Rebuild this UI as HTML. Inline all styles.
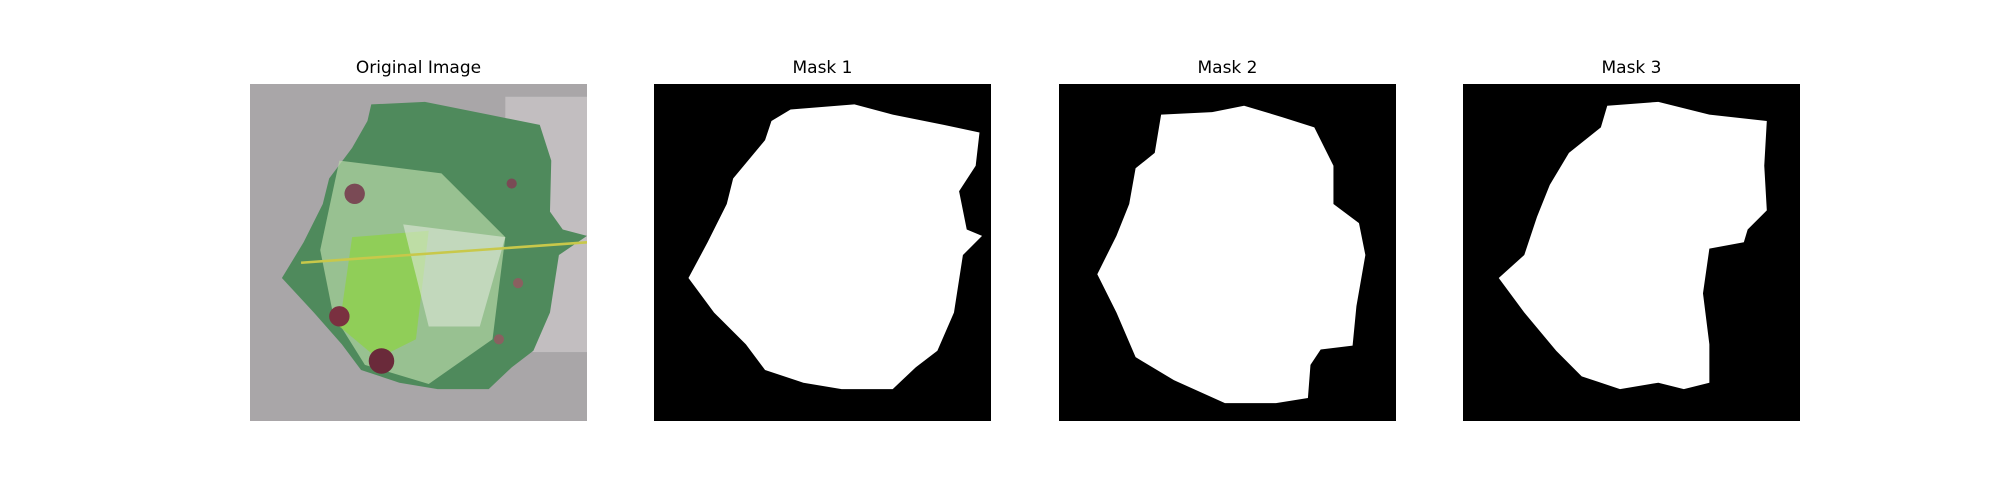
<!DOCTYPE html>
<html><head><meta charset="utf-8"><style>
body{margin:0;width:2000px;height:500px;background:#fff;position:relative;overflow:hidden;font-family:"DejaVu Sans","Liberation Sans",sans-serif}
.t{position:absolute;top:58px;width:337px;text-align:center;font-size:17px;color:#000}
svg.p{position:absolute;top:84px;width:337px;height:337px}
</style></head><body>
<div class="t" style="left:250px">Original Image</div>
<div class="t" style="left:654px">Mask 1</div>
<div class="t" style="left:1059px">Mask 2</div>
<div class="t" style="left:1463px">Mask 3</div>

<svg class="p" style="left:250px" viewBox="0 0 264 264" preserveAspectRatio="none">
<rect width="264" height="264" fill="#a9a6a8"/>
<rect x="200" y="10" width="64" height="200" fill="#c8c4c6" opacity="0.8"/>
<polygon points="95,16 137,14 187,24 227,32 236,60 235,100 245,114 264,119 242,134 235,179 222,209 205,222 187,239 147,239 117,234 87,224 72,204 50,179 25,152 42,124 57,94 62,74 80,50 92,29" fill="#4f8a5c"/>
<polygon points="70,60 150,70 200,120 190,200 140,235 90,220 65,180 55,130" fill="#b8d8a8" opacity="0.7"/>
<polygon points="80,120 140,115 130,200 100,215 70,190" fill="#8fd14a" opacity="0.8"/>
<polygon points="120,110 200,120 180,190 140,190" fill="#dde8d8" opacity="0.6"/>
<line x1="40" y1="140" x2="264" y2="124" stroke="#c8c84a" stroke-width="2"/>
<circle cx="82" cy="86" r="8" fill="#7a4a55"/>
<circle cx="70" cy="182" r="8" fill="#7a3040"/>
<circle cx="103" cy="217" r="10" fill="#6a2a3a"/>
<circle cx="205" cy="78" r="4" fill="#7a4a55"/>
<circle cx="210" cy="156" r="4" fill="#8a6060"/>
<circle cx="195" cy="200" r="4" fill="#8a6060"/>
</svg>

<svg class="p" style="left:654px" viewBox="0 0 264 264" preserveAspectRatio="none">
<rect width="264" height="264" fill="#000"/>
<polygon points="107,20 157,16 187,24 227,32 255,38 252,64 239,84 245,114 257,119 242,134 235,179 222,209 205,222 187,239 147,239 117,234 87,224 72,204 47,179 27,152 42,124 57,94 62,74 87,44 92,29" fill="#fff"/>
</svg>

<svg class="p" style="left:1059px" viewBox="0 0 264 264" preserveAspectRatio="none">
<rect width="264" height="264" fill="#000"/>
<polygon points="80,24 120,22 145,17 175,26 200,34 215,64 215,94 235,109 240,134 233,174 230,205 205,208 197,220 195,246 170,250 130,250 90,232 60,214 45,179 30,149 45,119 55,94 60,66 75,54" fill="#fff"/>
</svg>

<svg class="p" style="left:1463px" viewBox="0 0 264 264" preserveAspectRatio="none">
<rect width="264" height="264" fill="#000"/>
<polygon points="108,34 113,17 153,14 193,24 238,29 236,64 238,99 223,114 220,124 193,129 188,164 193,204 193,234 173,239 153,234 123,239 93,229 73,209 48,179 28,152 48,134 58,104 68,79 83,54" fill="#fff"/>
</svg>
</body></html>
